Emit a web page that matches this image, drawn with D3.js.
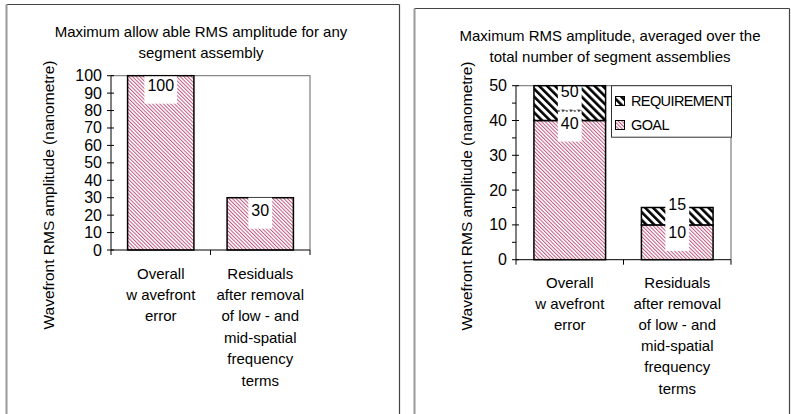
<!DOCTYPE html>
<html><head><meta charset="utf-8">
<script src="https://cdn.jsdelivr.net/npm/d3@7"></script>
<style>
html,body{margin:0;padding:0;background:#fff;}
svg{display:block;font-family:"Liberation Sans",Arial,sans-serif;}
</style></head>
<body>
<svg id="c" width="791" height="414"></svg>
<script>
// ---- data ----
const categories = ["Overall wavefront error", "Residuals after removal"];
const categoryLines = [
  ["Overall", "w avefront", "error"],
  ["Residuals", "after removal", "of low - and", "mid-spatial", "frequency", "terms"]
];
const maxValues = [100, 30];              // left chart
const goalValues = [40, 10];              // right chart, GOAL
const requirementValues = [50, 15];       // right chart, REQUIREMENT (total)
const leftTicks = [0, 10, 20, 30, 40, 50, 60, 70, 80, 90, 100];
const rightTicks = [0, 10, 20, 30, 40, 50];
const rightMinorTicks = [5, 15, 25, 35, 45];
const leftTitle = ["Maximum allow able RMS amplitude for any", "segment assembly"];
const rightTitle = ["Maximum RMS amplitude, averaged over the", "total number of segment assemblies"];
const yLabel = "Wavefront RMS amplitude (nanometre)";
const legendNames = ["REQUIREMENT", "GOAL"];

// ---- layout ----
const svg = d3.select("#c");
const defs = svg.append("defs");
const pink = defs.append("pattern").attr("id", "pinkH").attr("patternUnits", "userSpaceOnUse")
  .attr("width", 2.6).attr("height", 2.6).attr("patternTransform", "rotate(-45)");
pink.append("rect").attr("width", 2.6).attr("height", 2.6).attr("fill", "#fff");
pink.append("rect").attr("width", 1.0).attr("height", 2.6).attr("fill", "#c2577f");
const blk = defs.append("pattern").attr("id", "blkH").attr("patternUnits", "userSpaceOnUse")
  .attr("width", 5.6).attr("height", 5.6).attr("patternTransform", "rotate(-45)");
blk.append("rect").attr("width", 5.6).attr("height", 5.6).attr("fill", "#fff");
blk.append("rect").attr("width", 2.6).attr("height", 5.6).attr("fill", "#000");

// panel frames (bottom edge lies below the visible window)
function frame(x, y, w, h) {
  svg.append("line").attr("x1", x).attr("x2", x + w).attr("y1", y).attr("y2", y).attr("stroke", "#444").attr("stroke-width", 1.2);
  svg.append("line").attr("x1", x + w).attr("x2", x + w).attr("y1", y).attr("y2", y + h).attr("stroke", "#444").attr("stroke-width", 1.2);
  svg.append("line").attr("x1", x).attr("x2", x).attr("y1", y).attr("y2", y + h).attr("stroke", "#999").attr("stroke-width", 2);
}
frame(6.5, 4.5, 393, 420);
frame(414.5, 8.5, 375, 420);

function chart(cfg) {
  const g = svg.append("g");
  const x = d3.scaleBand().domain(categories).range([cfg.x0, cfg.x1]).paddingInner(1 / 3).paddingOuter(1 / 6);
  const y = d3.scaleLinear().domain([0, cfg.max]).range([cfg.yb, cfg.yt]);
  // title
  cfg.title.forEach((t, i) => g.append("text").attr("x", cfg.tx).attr("y", cfg.ty + i * 21)
    .attr("text-anchor", "middle").attr("dominant-baseline", "central").attr("font-size", 15).text(t));
  // y label
  g.append("text").attr("transform", `translate(${cfg.lx},${cfg.ly}) rotate(-90)`)
    .attr("text-anchor", "middle").attr("dominant-baseline", "central").attr("font-size", 15.5).text(yLabel);
  // plot frame (top/right gray)
  g.append("path").attr("d", `M${cfg.x0},${cfg.yt}H${cfg.x1}V${cfg.yb}`).attr("fill", "none").attr("stroke", "#888").attr("stroke-width", 1.3);
  // bars
  cfg.series.forEach(s => {
    g.selectAll(null).data(categories).enter().append("rect")
      .attr("x", d => x(d)).attr("width", x.bandwidth())
      .attr("y", (d, i) => y(s.top[i])).attr("height", (d, i) => y(s.bottom[i]) - y(s.top[i]))
      .attr("fill", s.fill).attr("stroke", "#000").attr("stroke-width", 1.5);
  });
  // axes
  g.append("line").attr("x1", cfg.x0).attr("x2", cfg.x0).attr("y1", cfg.yt).attr("y2", cfg.yb).attr("stroke", "#000").attr("stroke-width", 1);
  g.append("line").attr("x1", cfg.x0).attr("x2", cfg.x1).attr("y1", cfg.yb).attr("y2", cfg.yb).attr("stroke", "#000").attr("stroke-width", 1);
  cfg.ticks.forEach(t => {
    g.append("line").attr("x1", cfg.x0 - 4).attr("x2", cfg.x0 + 3).attr("y1", y(t)).attr("y2", y(t)).attr("stroke", "#000");
    g.append("text").attr("x", cfg.x0 - 9).attr("y", y(t)).attr("text-anchor", "end").attr("dominant-baseline", "central")
      .attr("font-size", 16).text(t);
  });
  (cfg.minor || []).forEach(t => {
    g.append("line").attr("x1", cfg.x0 - 4).attr("x2", cfg.x0).attr("y1", y(t)).attr("y2", y(t)).attr("stroke", "#000");
  });
  [cfg.x0, (cfg.x0 + cfg.x1) / 2, cfg.x1].forEach(xx =>
    g.append("line").attr("x1", xx).attr("x2", xx).attr("y1", cfg.yb).attr("y2", cfg.yb + 5).attr("stroke", "#000"));
  // category labels
  categories.forEach((c, i) => {
    categoryLines[i].forEach((t, j) => g.append("text").attr("x", x(c) + x.bandwidth() / 2)
      .attr("y", cfg.cy + j * cfg.cdy).attr("text-anchor", "middle").attr("dominant-baseline", "central")
      .attr("font-size", 15).text(t));
  });
  // data labels with white boxes
  cfg.labels.forEach(L => {
    const cx = x(categories[L.i]) + x.bandwidth() / 2;
    const cyy = y(L.v) + L.off;
    const t = g.append("text").attr("x", cx).attr("y", cyy).attr("text-anchor", "middle").attr("dominant-baseline", "central")
      .attr("font-size", 16).text(L.v);
    const w = t.node().getComputedTextLength();
    const top = Math.max(cyy - 13, cfg.yt + 0.7);
    g.insert("rect", () => t.node()).attr("x", cx - w / 2 - 3).attr("width", w + 6)
      .attr("y", top).attr("height", cyy + 18 - top).attr("fill", "#fff");
    if (L.dot) g.append("line").attr("x1", cx - w / 2 - 3).attr("x2", cx + w / 2 + 3).attr("y1", top + 0.5).attr("y2", top + 0.5)
      .attr("stroke", "#000").attr("stroke-width", 1.2).attr("stroke-dasharray", "2,2");
  });
  return { g, x, y };
}

chart({
  x0: 111, x1: 310, yt: 75.7, yb: 250, max: 100,
  tx: 201, ty: 31.5, title: leftTitle, lx: 48, ly: 195,
  cy: 273, cdy: 21.4,
  ticks: leftTicks,
  series: [{ bottom: [0, 0], top: maxValues, fill: "url(#pinkH)" }],
  labels: [{ i: 0, v: maxValues[0], off: 10 }, { i: 1, v: maxValues[1], off: 13 }]
});

chart({
  x0: 516, x1: 731, yt: 85.7, yb: 259.7, max: 50,
  tx: 610, ty: 35, title: rightTitle, lx: 466.5, ly: 196,
  cy: 282, cdy: 21.2,
  ticks: rightTicks, minor: rightMinorTicks,
  series: [
    { bottom: [0, 0], top: goalValues, fill: "url(#pinkH)" },
    { bottom: goalValues, top: requirementValues, fill: "url(#blkH)" }
  ],
  labels: [
    { i: 0, v: requirementValues[0], off: 6 },
    { i: 0, v: goalValues[0], off: 3, dot: true },
    { i: 1, v: requirementValues[1], off: -3 },
    { i: 1, v: goalValues[1], off: 8 }
  ]
});

// legend
const lg = svg.append("g");
lg.append("rect").attr("x", 611.5).attr("y", 85.7).attr("width", 120).attr("height", 51.5)
  .attr("fill", "#fff").attr("stroke", "#333").attr("stroke-width", 1);
const legendFills = ["url(#blkH)", "url(#pinkH)"];
legendNames.forEach((n, i) => {
  const yy = 101 + i * 24;
  lg.append("rect").attr("x", 615.5).attr("y", yy - 4.5).attr("width", 9).attr("height", 9)
    .attr("fill", legendFills[i]).attr("stroke", "#000").attr("stroke-width", 1);
  lg.append("text").attr("x", 631).attr("y", yy).attr("dominant-baseline", "central").attr("font-size", 14.5)
    .attr("letter-spacing", "-0.6").text(n);
});
</script>
</body></html>
